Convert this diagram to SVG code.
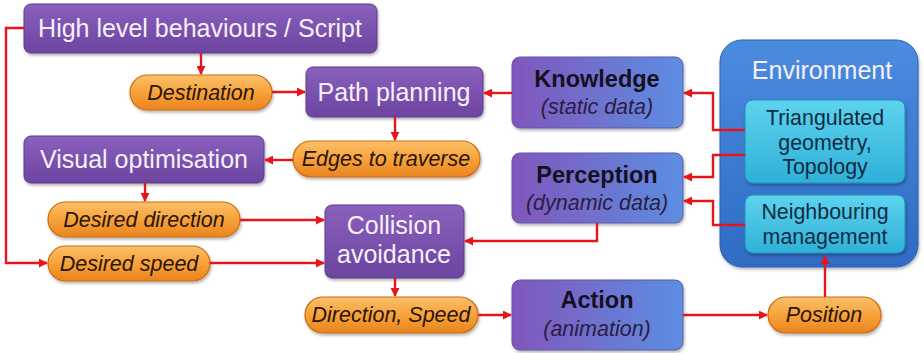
<svg xmlns="http://www.w3.org/2000/svg" width="924" height="353" viewBox="0 0 924 353">
  <defs>
    <linearGradient id="gPurple" x1="0" y1="0" x2="0" y2="1">
      <stop offset="0" stop-color="#8a60bd"/>
      <stop offset="1" stop-color="#6c449f"/>
    </linearGradient>
    <linearGradient id="gMix" x1="0" y1="0" x2="1" y2="0">
      <stop offset="0" stop-color="#8156bb"/>
      <stop offset="1" stop-color="#5c8ee2"/>
    </linearGradient>
    <linearGradient id="gOrange" x1="0" y1="0" x2="0" y2="1">
      <stop offset="0" stop-color="#fbc06a"/>
      <stop offset="0.5" stop-color="#f7a23a"/>
      <stop offset="1" stop-color="#e9841f"/>
    </linearGradient>
    <linearGradient id="gEnv" x1="0" y1="0" x2="0" y2="1">
      <stop offset="0" stop-color="#4a8ce0"/>
      <stop offset="1" stop-color="#2f6bc4"/>
    </linearGradient>
    <linearGradient id="gCyan" x1="0" y1="0" x2="0" y2="1">
      <stop offset="0" stop-color="#5ed3ee"/>
      <stop offset="1" stop-color="#2fb0d8"/>
    </linearGradient>
    <filter id="shadow" x="-10%" y="-10%" width="120%" height="130%">
      <feDropShadow dx="1" dy="2" stdDeviation="1.5" flood-color="#000" flood-opacity="0.3"/>
    </filter>
    <marker id="arrow" viewBox="0 0 10 10" refX="9" refY="5" markerWidth="9" markerHeight="9" markerUnits="userSpaceOnUse" orient="auto">
      <path d="M0,0 L10,5 L0,10 z" fill="#e8141c"/>
    </marker>
  </defs>
  <style>
    .box { fill: url(#gPurple); stroke: #5d3a8a; stroke-width: 1; filter: url(#shadow); }
    .mix { fill: url(#gMix); stroke: #5d5aa8; stroke-width: 1; filter: url(#shadow); }
    .pill { fill: url(#gOrange); stroke: #d06a10; stroke-width: 1.2; filter: url(#shadow); }
    .env { fill: url(#gEnv); stroke: #2a60b0; stroke-width: 1; filter: url(#shadow); }
    .cyan { fill: url(#gCyan); stroke: #1f8fb8; stroke-width: 1; filter: url(#shadow); }
    text { font-family: "Liberation Sans", Arial, sans-serif; text-anchor: middle; }
    .wt { fill: #f6f0fa; font-size: 25px; }
    .it { fill: #2a1606; font-size: 21.5px; font-style: italic; }
    .bd { fill: #16101e; font-size: 23.5px; font-weight: bold; }
    .sub { fill: #2c1c44; font-size: 21.5px; font-style: italic; }
    .cy { fill: #0f2c44; font-size: 21.4px; }
    .edge { fill: none; stroke: #e8141c; stroke-width: 2.4; }
  </style>

  <!-- nodes -->
  <g id="high-level">
    <rect class="box" x="24" y="4" width="353" height="49" rx="7"/>
    <text class="wt" x="200" y="37">High level behaviours / Script</text>
  </g>
  <g id="destination">
    <rect class="pill" x="130" y="75" width="142" height="35" rx="17.5"/>
    <text class="it" x="201" y="100">Destination</text>
  </g>
  <g id="path-planning">
    <rect class="box" x="306" y="67" width="177" height="50" rx="7"/>
    <text class="wt" x="394" y="101">Path planning</text>
  </g>
  <g id="edges-to-traverse">
    <rect class="pill" x="293" y="141" width="187" height="36" rx="18"/>
    <text class="it" x="386" y="166">Edges to traverse</text>
  </g>
  <g id="visual-optimisation">
    <rect class="box" x="24" y="136" width="240" height="47" rx="7"/>
    <text class="wt" x="144" y="168">Visual optimisation</text>
  </g>
  <g id="desired-direction">
    <rect class="pill" x="48" y="202" width="192" height="35" rx="17.5"/>
    <text class="it" x="144" y="227">Desired direction</text>
  </g>
  <g id="desired-speed">
    <rect class="pill" x="48" y="246" width="162" height="35" rx="17.5"/>
    <text class="it" x="129" y="271">Desired speed</text>
  </g>
  <g id="collision-avoidance">
    <rect class="box" x="325" y="205" width="139" height="73" rx="7"/>
    <text class="wt" x="394" y="234">Collision<tspan x="394" dy="29">avoidance</tspan></text>
  </g>
  <g id="direction-speed">
    <rect class="pill" x="305" y="297" width="173" height="36" rx="18"/>
    <text class="it" x="391" y="322">Direction, Speed</text>
  </g>
  <g id="knowledge">
    <rect class="mix" x="512" y="57" width="171" height="71" rx="8"/>
    <text class="bd" x="597" y="87">Knowledge</text>
    <text class="sub" x="597" y="114">(static data)</text>
  </g>
  <g id="perception">
    <rect class="mix" x="512" y="153" width="171" height="70" rx="8"/>
    <text class="bd" x="597" y="183">Perception</text>
    <text class="sub" x="597" y="210">(dynamic data)</text>
  </g>
  <g id="action">
    <rect class="mix" x="512" y="280" width="171" height="70" rx="8"/>
    <text class="bd" x="597" y="308">Action</text>
    <text class="sub" x="597" y="336">(animation)</text>
  </g>
  <g id="position">
    <rect class="pill" x="768" y="297" width="113" height="36" rx="18"/>
    <text class="it" x="824" y="322">Position</text>
  </g>
  <g id="environment">
    <rect class="env" x="720" y="40" width="198" height="227" rx="22"/>
    <text class="wt" x="822" y="79">Environment</text>
  </g>
  <g id="triangulated-geometry">
    <rect class="cyan" x="745" y="100" width="160" height="83" rx="8"/>
    <text class="cy" x="825" y="125">Triangulated<tspan x="825" dy="24.5">geometry,</tspan><tspan x="825" dy="24.5">Topology</tspan></text>
  </g>
  <g id="neighbouring-management">
    <rect class="cyan" x="745" y="195" width="160" height="58" rx="8"/>
    <text class="cy" x="825" y="219">Neighbouring<tspan x="825" dy="24.5">management</tspan></text>
  </g>

  <!-- connectors, drawn over the boxes -->
  <g id="connectors">
    <path class="edge" d="M24,28 H6 V263 H47" marker-end="url(#arrow)"/>
    <path class="edge" d="M201,53 V74" marker-end="url(#arrow)"/>
    <path class="edge" d="M272,92 H305" marker-end="url(#arrow)"/>
    <path class="edge" d="M395,117 V140" marker-end="url(#arrow)"/>
    <path class="edge" d="M293,160 H265" marker-end="url(#arrow)"/>
    <path class="edge" d="M145,183 V201" marker-end="url(#arrow)"/>
    <path class="edge" d="M240,220 H324" marker-end="url(#arrow)"/>
    <path class="edge" d="M210,263 H324" marker-end="url(#arrow)"/>
    <path class="edge" d="M395,278 V296" marker-end="url(#arrow)"/>
    <path class="edge" d="M478,315 H511" marker-end="url(#arrow)"/>
    <path class="edge" d="M683,315 H767" marker-end="url(#arrow)"/>
    <path class="edge" d="M825,297 V256" marker-end="url(#arrow)"/>
    <path class="edge" d="M512,93 H484" marker-end="url(#arrow)"/>
    <path class="edge" d="M745,130 H713 V93 H684" marker-end="url(#arrow)"/>
    <path class="edge" d="M745,155 H713 V177 H684" marker-end="url(#arrow)"/>
    <path class="edge" d="M745,225 H713 V201 H684" marker-end="url(#arrow)"/>
    <path class="edge" d="M597,223 V241 H465" marker-end="url(#arrow)"/>
  </g>
</svg>
